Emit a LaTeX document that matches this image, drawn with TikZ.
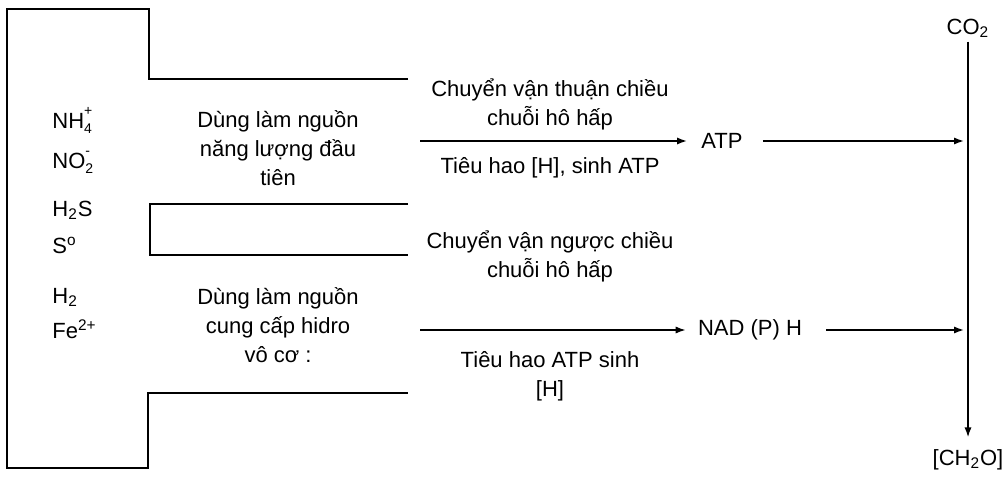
\documentclass[tikz,border=0pt]{standalone}
\usepackage{fontspec}
\setmainfont{Liberation Sans}
\usetikzlibrary{arrows.meta,positioning}
\newcommand{\stk}[2]{\rlap{\raisebox{1.1ex}{\scriptsize #1}}\raisebox{-0.5ex}{\scriptsize #2}}

\begin{document}
\begin{tikzpicture}[x=0.5pt, y=-0.5pt,
  every node/.style={font=\fontsize{11}{14.5}\selectfont, align=center, inner sep=2pt},
  wall/.style={line width=0.9pt},
  flow/.style={line width=0.8pt, -{Latex[length=5pt,width=3.6pt]}}]
  \useasboundingbox (0,0) rectangle (1005,476);
  \draw[wall] (408,79) -- (149,79) -- (149,9) -- (7,9) -- (7,468) -- (148,468) -- (148,393) -- (408,393);
  \draw[wall] (408,204) -- (150,204) -- (150,255) -- (408,255);
  \node[anchor=base west] (nh) at (48,128) {NH\stk{+}{4}};
  \node[anchor=base west] (no) at (48,168) {NO\stk{-}{2}};
  \node[anchor=base west] (hs) at (48,216) {H\textsubscript{2}S};
  \node[anchor=base west] (so) at (48,253) {S\textsuperscript{o}};
  \node[anchor=base west] (hh) at (48,303) {H\textsubscript{2}};
  \node[anchor=base west] (fe) at (48,338) {Fe\textsuperscript{2+}};
  \node (src1) at (278,148) {Dùng làm nguồn\\năng lượng đầu\\tiên};
  \node (src2) at (278,325) {Dùng làm nguồn\\cung cấp hidro\\vô cơ :};
  \node (fwd) at (550,104) {Chuyển vận thuận chiều\\chuỗi hô hấp};
  \node (fwdc) at (550,168) {Tiêu hao [H], sinh ATP};
  \node (atp) at (722,141) {ATP};
  \node (rev) at (550,256) {Chuyển vận ngược chiều\\chuỗi hô hấp};
  \node (revc) at (550,376) {Tiêu hao ATP sinh\\{[H]}};
  \node (nad) at (750,330) {NAD (P) H};
  \node (co2) at (968,28) {CO\textsubscript{2}};
  \node (ch2o) at (968,460) {[CH\textsubscript{2}O]};
  \coordinate (fwdin) at (420,141);
  \coordinate (revin) at (420,330);
  \coordinate (fix1) at (964,141);
  \coordinate (fix2) at (964,330);
  \draw[flow, shorten >=5pt] (fwdin) -- (atp);
  \draw[flow, shorten <=8pt] (atp) -- (fix1);
  \draw[flow, shorten >=4pt] (revin) -- (nad);
  \draw[flow, shorten <=10pt] (nad) -- (fix2);
  \draw[flow, shorten >=4pt] (co2) -- (ch2o);
\end{tikzpicture}
\end{document}
